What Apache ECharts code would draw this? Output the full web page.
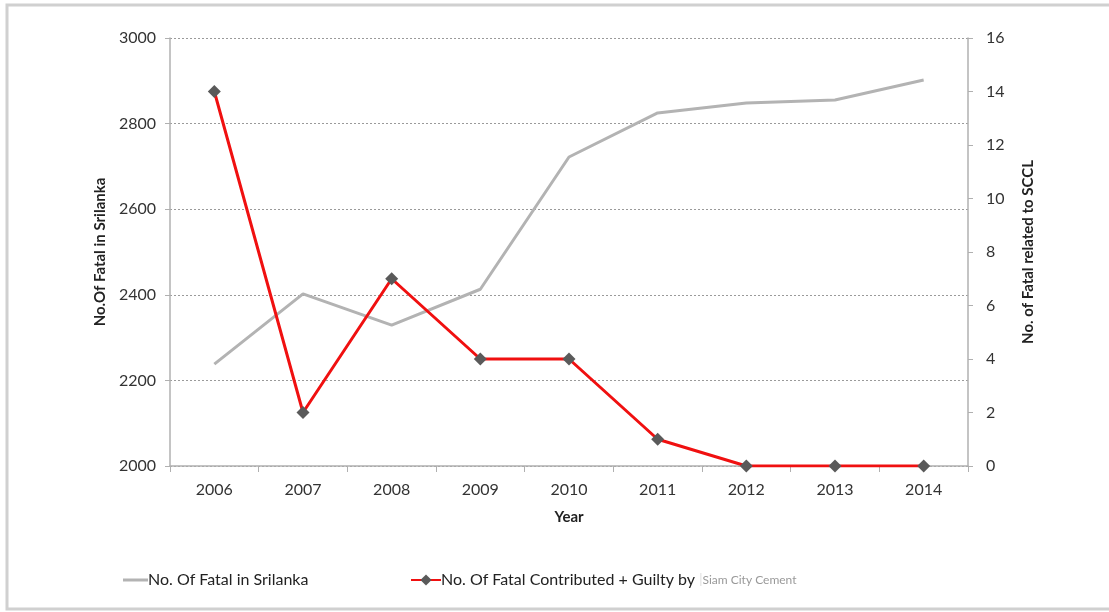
<!DOCTYPE html>
<html><head><meta charset="utf-8">
<script src="https://cdn.jsdelivr.net/npm/echarts@6/dist/echarts.min.js"></script>
<style>html,body{margin:0;padding:0;background:#fff}#c{width:1109px;height:612px}</style>
</head><body><div id="c"></div>
<script>
const years = ['2006','2007','2008','2009','2010','2011','2012','2013','2014'];
const fatalSrilanka = [2238, 2402, 2329, 2413, 2722, 2825, 2848, 2855, 2902];
const fatalSCCL = [14, 2, 7, 4, 4, 1, 0, 0, 0];
const nameA = 'No. Of Fatal in Srilanka';
const nameB = 'No. Of Fatal Contributed + Guilty by';
const FONT = 'Lato';
const chart = echarts.init(document.getElementById('c'));
chart.setOption({
  animation: false,
  textStyle: {fontFamily: FONT},
  graphic: [{type:'rect', shape:{x:7,y:5,width:1120,height:604}, style:{fill:'none', stroke:'#d0d0d0', lineWidth:3}, silent:true}],
  grid: {left:170, right:141, top:38, bottom:146, containLabel:false},
  legend: [
    {data:[{name:nameA, icon:'rect'}], left:118, top:567, itemWidth:25, itemHeight:3, itemGap:0,
     textStyle:{fontFamily:FONT, fontSize:16, color:'#222', padding:[0,0,0,-5]}},
    {data:[nameB], left:405, top:567, itemWidth:30, itemHeight:14,
     textStyle:{fontFamily:FONT, fontSize:16, color:'#222', padding:[0,0,0,-5],
       rich:{s:{fontSize:12, color:'#999', fontFamily:FONT}, bar:{fontSize:13, color:'#ddd'}}},
     formatter: function(n){ return n === nameB ? n + ' {bar||}{s|Siam City Cement}' : n; }}
  ],
  xAxis: {
    type:'category', data: years, boundaryGap:true,
    name:'Year', nameLocation:'middle', nameGap:44,
    nameTextStyle:{fontFamily:FONT, fontSize:15, fontWeight:'bold', color:'#222'},
    axisLine:{lineStyle:{color:'#b0b0b0', width:1.5}},
    axisTick:{show:true, length:6, lineStyle:{color:'#b0b0b0'}},
    axisLabel:{fontFamily:FONT, fontSize:16, color:'#333', margin:16}
  },
  yAxis: [
    {type:'value', min:2000, max:3000, interval:200, position:'left',
     name:'No.Of Fatal in Srilanka', nameLocation:'middle', nameGap:60, nameRotate:90,
     nameTextStyle:{fontFamily:FONT, fontSize:15, fontWeight:'bold', color:'#222'},
     axisLine:{show:true, lineStyle:{color:'#b0b0b0', width:1.5}},
     axisTick:{show:true, length:5, lineStyle:{color:'#b0b0b0'}},
     axisLabel:{fontFamily:FONT, fontSize:16, color:'#333', margin:14, formatter: v => String(v)},
     splitLine:{show:true, lineStyle:{color:'#9a9a9a', type:[2,2], width:1}}},
    {type:'value', min:0, max:16, interval:2, position:'right',
     name:'No. of Fatal related to SCCL', nameLocation:'middle', nameGap:53, nameRotate:90,
     nameTextStyle:{fontFamily:FONT, fontSize:15, fontWeight:'bold', color:'#222'},
     axisLine:{show:true, lineStyle:{color:'#b0b0b0', width:1.5}},
     axisTick:{show:true, length:5, lineStyle:{color:'#b0b0b0'}},
     axisLabel:{fontFamily:FONT, fontSize:16, color:'#333', margin:18},
     splitLine:{show:false}}
  ],
  series: [
    {name:nameA, type:'line', yAxisIndex:0, data:fatalSrilanka, showSymbol:false, symbol:'none',
     lineStyle:{color:'#b3b3b3', width:3}, itemStyle:{color:'#b3b3b3'}},
    {name:nameB, type:'line', yAxisIndex:1, data:fatalSCCL, symbol:'diamond', symbolSize:13,
     lineStyle:{color:'#f01010', width:3}, itemStyle:{color:'#5a5a5a'}}
  ]
});
</script></body></html>
